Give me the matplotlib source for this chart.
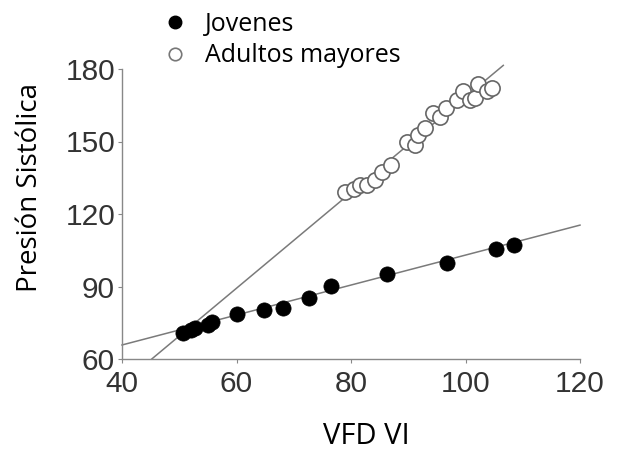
import matplotlib
matplotlib.use("Agg")
import matplotlib.pyplot as plt
from matplotlib.lines import Line2D

# Data
jov_x = [50.7, 52.0, 52.8, 55.0, 55.7, 60.1, 64.8, 68.1, 72.7, 76.5, 86.3, 96.8, 105.4, 108.5]
jov_y = [70.7, 71.8, 72.8, 74.0, 75.3, 78.6, 80.2, 81.0, 85.2, 90.2, 95.1, 99.7, 105.5, 107.1]

adu_x = [79.0, 80.5, 81.6, 82.8, 84.2, 85.5, 86.9, 89.8, 91.2, 91.7, 93.0, 94.4,
         95.5, 96.6, 98.6, 99.6, 100.8, 101.7, 102.2, 103.8, 104.7]
adu_y = [129.0, 130.5, 131.9, 132.0, 134.0, 137.3, 140.2, 149.7, 148.4, 152.6, 155.5, 162.0,
         160.0, 164.0, 167.0, 171.0, 167.0, 168.0, 174.0, 171.0, 172.0]

# Fitted lines (end points)
jov_line_x = [40, 120]
jov_line_y = [65.8, 115.4]
adu_line_x = [45.2, 106.6]
adu_line_y = [60.0, 181.5]

x_ticks = [40, 60, 80, 100, 120]
y_ticks = [60, 90, 120, 150, 180]
series_names = ["Jovenes", "Adultos mayores"]
x_label = "VFD VI"
y_label = "Presión Sistólica"

W, H = 628, 455
fig = plt.figure(figsize=(W / 100, H / 100), dpi=100)
ax = fig.add_axes([122 / W, 1 - 359 / H, (580 - 122) / W, (359 - 69) / H])

line_col = "#7a7a7a"
ax.plot(jov_line_x, jov_line_y, color=line_col, lw=1.1, clip_on=False, zorder=1)
ax.plot(adu_line_x, adu_line_y, color=line_col, lw=1.1, clip_on=False, zorder=1)

ax.scatter(jov_x, jov_y, s=120, color="black", edgecolors="black", linewidths=0.5,
           zorder=3, clip_on=False)
ax.scatter(adu_x, adu_y, s=120, facecolors="white", edgecolors="#666666", linewidths=1.2,
           zorder=3, clip_on=False)

ax.set_xlim(40, 120)
ax.set_ylim(60, 180)
ax.set_xticks(x_ticks)
ax.set_yticks(y_ticks)
ax.set_xticklabels([str(v) for v in x_ticks], family="Liberation Sans", fontsize=21.5, color="#333333")
ax.set_yticklabels([str(v) for v in y_ticks], family="Liberation Sans", fontsize=21.5, color="#333333")
ax.tick_params(axis="both", length=3, width=0.8, color="#888888", pad=2)
ax.tick_params(axis="x", pad=5)
for s in ["top", "right"]:
    ax.spines[s].set_visible(False)
for s in ["left", "bottom"]:
    ax.spines[s].set_color("#888888")
    ax.spines[s].set_linewidth(1.0)

fig.text(366 / W, 1 - 437 / H, x_label, ha="center", va="center", fontsize=21,
         family="Open Sans", color="black")
fig.text(30 / W, 1 - 188 / H, y_label, ha="center", va="center", rotation=90, fontsize=20,
         family="Open Sans", color="black")

handles = [
    Line2D([], [], marker="o", ls="none", markersize=9, markerfacecolor="black",
           markeredgecolor="black"),
    Line2D([], [], marker="o", ls="none", markersize=9, markerfacecolor="white",
           markeredgecolor="#777777", markeredgewidth=1.2),
]
fig.legend(handles, series_names, loc="upper left", bbox_to_anchor=(150 / W, 1 - 2 / H),
           frameon=False, prop={"family": "Open Sans", "size": 18}, handletextpad=0.6,
           labelspacing=0.25, borderaxespad=0.0, handlelength=1.2)

fig.savefig("out.png", dpi=100)
